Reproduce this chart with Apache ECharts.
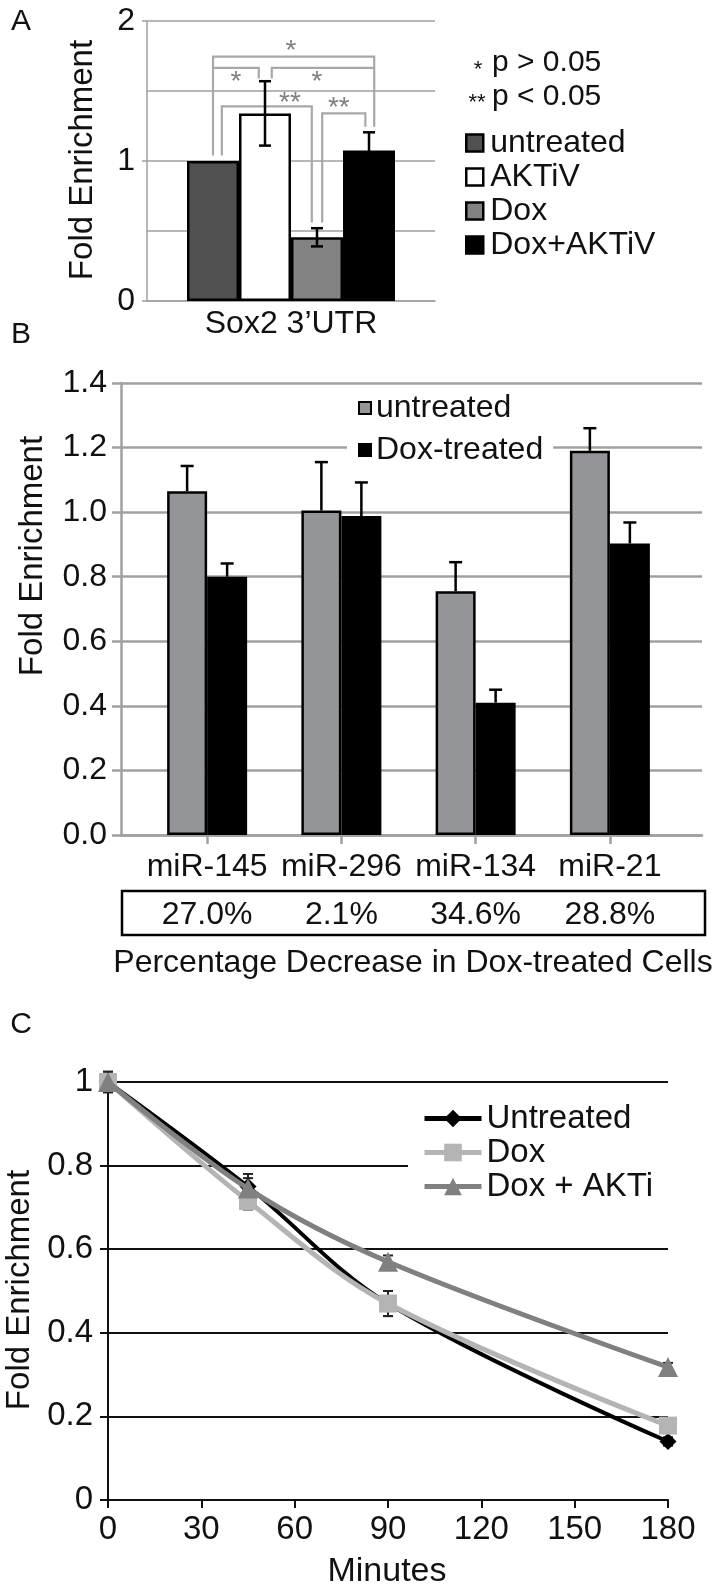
<!DOCTYPE html>
<html><head><meta charset="utf-8">
<script src="https://cdn.jsdelivr.net/npm/echarts@6/dist/echarts.min.js"></script>
<style>html,body{margin:0;padding:0;background:#fff}#c{width:723px;height:1591px}</style>
</head><body><div id="c"></div>
<script>
// ---------- Panel A data ----------
const aCategories = ['Sox2 3’UTR'];
const aSeriesNames = ['untreated', 'AKTiV', 'Dox', 'Dox+AKTiV'];
const aValues = [1.0, 1.34, 0.455, 1.075];
const aErrors = [0, 0.23, 0.065, 0.13];
const aTicks = [0, 1, 2];
// brackets: [left bar pos, right bar pos, bar level, left end level, right end level, mark x pos, mark level]
const aBrackets = [
  [0.0, 3.1, 1.745, 1.04, 1.245, 1.5, 1.83],
  [0.0, 0.88, 1.665, 1.665, 1.59, 0.44, 1.607],
  [1.13, 3.1, 1.665, 1.59, 1.665, 2.0, 1.607],
  [0.17, 1.9, 1.39, 1.04, 0.56, 1.48, 1.457],
  [2.1, 2.93, 1.34, 0.56, 1.245, 2.42, 1.42]
];
const aBracketMarks = ['*', '*', '*', '**', '**'];

// ---------- Panel B data ----------
const bCategories = ['miR-145', 'miR-296', 'miR-134', 'miR-21'];
const bSeriesNames = ['untreated ', 'Dox-treated'];
const bUntreated = [1.065, 1.005, 0.755, 1.19];
const bUntreatedErr = [0.078, 0.15, 0.09, 0.07];
const bDox = [0.80, 0.988, 0.41, 0.903];
const bDoxErr = [0.041, 0.104, 0.04, 0.065];
const bPercent = ['27.0%', '2.1%', '34.6%', '28.8%'];

// ---------- Panel C data ----------
const cSeriesNames = ['Untreated', 'Dox ', 'Dox + AKTi'];
const cMinutes = [0, 45, 90, 180];
const cUntreated = [1.0, 0.75, 0.47, 0.14];
const cUntreatedErr = [0.025, 0.03, 0.03, 0.01];
const cDox = [1.0, 0.715, 0.47, 0.178];
const cDoxErr = [0.02, 0.02, 0.03, 0.01];
const cDoxAkti = [1.0, 0.745, 0.57, 0.318];
const cDoxAktiErr = [0.02, 0.025, 0.015, 0.01];

const FONT = 'Liberation Sans, Arial, Helvetica, sans-serif';
const A_BAR_W = 52, B_BAR_W = 40;
const aColors = ['#505050', '#ffffff', '#838383', '#000000'];
const GRID_GRAY = '#a0a0a0';

const chart = echarts.init(document.getElementById('c'), null, {renderer: 'canvas'});

function errSeries(xi, yi, vals, errs, kIndex, nSeries, barW, capW, plusOnly, z) {
  return {
    type: 'custom', xAxisIndex: xi, yAxisIndex: yi, z: z, silent: true,
    data: vals.map((v, i) => [i, plusOnly ? v : v - errs[i], v + errs[i], errs[i]]),
    renderItem: (p, api) => {
      if (api.value(3) <= 0) return null;
      const lo = api.coord([api.value(0), api.value(1)]);
      const hi = api.coord([api.value(0), api.value(2)]);
      const x = lo[0] + (kIndex - (nSeries - 1) / 2) * barW;
      const st = {stroke: '#000', lineWidth: 2.5};
      const ch = [
        {type: 'line', shape: {x1: x, y1: lo[1], x2: x, y2: hi[1]}, style: st},
        {type: 'line', shape: {x1: x - capW / 2, y1: hi[1], x2: x + capW / 2, y2: hi[1]}, style: st}
      ];
      if (!plusOnly) ch.push({type: 'line', shape: {x1: x - capW / 2, y1: lo[1], x2: x + capW / 2, y2: lo[1]}, style: st});
      return {type: 'group', children: ch};
    }
  };
}

function lineErrSeries(vals, errs, z) {
  return {
    type: 'custom', xAxisIndex: 4, yAxisIndex: 4, z: z, silent: true,
    data: vals.map((v, i) => [cMinutes[i], v - errs[i], v + errs[i]]),
    renderItem: (p, api) => {
      const lo = api.coord([api.value(0), api.value(1)]);
      const hi = api.coord([api.value(0), api.value(2)]);
      const x = lo[0];
      const st = {stroke: '#222', lineWidth: 2};
      return {type: 'group', children: [
        {type: 'line', shape: {x1: x, y1: lo[1], x2: x, y2: hi[1]}, style: st},
        {type: 'line', shape: {x1: x - 5, y1: hi[1], x2: x + 5, y2: hi[1]}, style: st},
        {type: 'line', shape: {x1: x - 5, y1: lo[1], x2: x + 5, y2: lo[1]}, style: st}
      ]};
    }
  };
}

const bracketSeries = {
  type: 'custom', xAxisIndex: 0, yAxisIndex: 0, z: 6, silent: true,
  data: aBrackets.map(b => [0].concat(b)),
  renderItem: (p, api) => {
    const c = api.coord([0, 0]);
    const px = pos => c[0] + (pos - 1.5) * A_BAR_W;
    const py = v => api.coord([0, v])[1];
    const xL = px(api.value(1)), xR = px(api.value(2));
    const yT = py(api.value(3)), yL = py(api.value(4)), yR = py(api.value(5));
    return {type: 'group', children: [
      {type: 'polyline', shape: {points: [[xL, yL], [xL, yT], [xR, yT], [xR, yR]]},
        style: {stroke: '#a8a8a8', lineWidth: 2.2, fill: null}},
      {type: 'text', x: px(api.value(6)), y: py(api.value(7)) + 6,
        style: {text: aBracketMarks[p.dataIndex], fontSize: 28, fontFamily: FONT, fill: '#808080', align: 'center', verticalAlign: 'middle'}}
    ]};
  }
};

function txt(text, x, y, size, opts) {
  opts = opts || {};
  return {type: 'text', x: x, y: y, rotation: opts.rot || 0, z: 20,
    style: {text: text, fontSize: size, fontFamily: FONT, fill: opts.fill || '#111', align: opts.align || 'center', verticalAlign: 'middle'}};
}

const option = {
  backgroundColor: '#fff',
  animation: false,
  textStyle: {fontFamily: FONT},
  grid: [
    {left: 147, top: 21, width: 288, height: 280},
    {left: 121, top: 383, width: 581, height: 452},
    {left: 140, top: 383, width: 537, height: 452},
    {left: 140, top: 383, width: 537, height: 452},
    {left: 108, top: 1082, width: 560, height: 418}
  ],
  xAxis: [
    {gridIndex: 0, type: 'category', data: aCategories,
      axisLine: {lineStyle: {color: GRID_GRAY, width: 1.5}}, axisTick: {show: false},
      axisLabel: {fontSize: 32, color: '#111', margin: 7}},
    {gridIndex: 1, type: 'value', min: 0, max: 1, axisLabel: {show: false}, splitLine: {show: false},
      axisTick: {show: false}, axisLine: {lineStyle: {color: GRID_GRAY, width: 2.5}}},
    {gridIndex: 2, type: 'category', data: bCategories, axisLine: {show: false},
      axisTick: {show: true, alignWithLabel: true, length: 9, lineStyle: {color: GRID_GRAY, width: 2.5}},
      axisLabel: {fontSize: 32, color: '#111', margin: 16, interval: 0, hideOverlap: false}},
    {gridIndex: 3, type: 'category', data: bPercent, position: 'bottom', offset: 58,
      axisLine: {show: false}, axisTick: {show: false},
      axisLabel: {fontSize: 32, color: '#111', margin: 6, interval: 0, hideOverlap: false}},
    {gridIndex: 4, type: 'value', min: 0, max: 180, interval: 30,
      axisLine: {lineStyle: {color: '#111', width: 2}},
      axisTick: {length: 8, lineStyle: {color: '#111', width: 2}},
      axisLabel: {fontSize: 33, color: '#111', margin: 13}, splitLine: {show: false}}
  ],
  yAxis: [
    {gridIndex: 0, type: 'value', min: 0, max: 2, interval: 1,
      axisLine: {show: true, lineStyle: {color: GRID_GRAY, width: 1.5}},
      axisTick: {show: true, length: 5, lineStyle: {color: GRID_GRAY, width: 1.5}},
      axisLabel: {fontSize: 32, color: '#111', margin: 12},
      splitLine: {lineStyle: {color: GRID_GRAY, width: 1.5}},
      minorTick: {show: false, splitNumber: 2},
      minorSplitLine: {show: true, lineStyle: {color: GRID_GRAY, width: 1.5}}},
    {gridIndex: 1, type: 'value', min: 0, max: 1.4, interval: 0.2,
      axisLine: {show: true, lineStyle: {color: GRID_GRAY, width: 2.5}},
      axisTick: {show: true, length: 9, lineStyle: {color: GRID_GRAY, width: 2.5}},
      axisLabel: {fontSize: 32, color: '#111', margin: 14, formatter: v => v.toFixed(1)},
      splitLine: {lineStyle: {color: GRID_GRAY, width: 2.5}}},
    {gridIndex: 2, type: 'value', min: 0, max: 1.4, show: false},
    {gridIndex: 3, type: 'value', min: 0, max: 1, show: false},
    {gridIndex: 4, type: 'value', min: 0, max: 1, interval: 0.2,
      axisLine: {show: true, lineStyle: {color: '#111', width: 2}},
      axisTick: {show: true, length: 8, lineStyle: {color: '#111', width: 2}},
      axisLabel: {fontSize: 33, color: '#111', margin: 15},
      splitLine: {lineStyle: {color: '#111', width: 2}}}
  ],
  legend: [
    {data: aSeriesNames, orient: 'vertical', left: 465, top: 127, padding: 0, itemGap: 2,
      itemWidth: 17, itemHeight: 17, selectedMode: false, icon: 'rect',
      itemStyle: {borderColor: '#000', borderWidth: 2.5},
      textStyle: {fontSize: 32, lineHeight: 32, color: '#111', padding: [0, 0, 0, 2]}},
    {data: bSeriesNames, orient: 'vertical', left: 347, top: 387, padding: [5, 10, 5, 11], itemGap: 10,
      backgroundColor: '#fff', itemWidth: 12, itemHeight: 12, selectedMode: false, icon: 'rect',
      itemStyle: {borderColor: '#000', borderWidth: 2},
      formatter: n => n.trim(),
      textStyle: {fontSize: 32, lineHeight: 32, color: '#111'}},
    {data: cSeriesNames, orient: 'vertical', left: 408, top: 1098, padding: [4, 24, 4, 14], itemGap: 1,
      backgroundColor: '#fff', itemWidth: 57, itemHeight: 22, selectedMode: false,
      lineStyle: {width: 5},
      formatter: n => n.trim(),
      textStyle: {fontSize: 33, lineHeight: 33, color: '#111'}}
  ],
  graphic: [
    txt('A', 21, 22, 30),
    txt('B', 21, 335, 30),
    txt('C', 21, 1025, 30),
    txt('Fold Enrichment', 83, 160, 33, {rot: Math.PI / 2}),
    txt('Fold Enrichment', 33, 556, 33, {rot: Math.PI / 2}),
    txt('Fold Enrichment', 20, 1290, 33, {rot: Math.PI / 2}),
    txt('*', 478, 70, 22, {align: 'center'}),
    txt('p > 0.05', 492, 63, 30, {align: 'left'}),
    txt('**', 477, 103, 22, {align: 'center'}),
    txt('p < 0.05', 492, 97, 30, {align: 'left'}),
    {type: 'rect', z: 20, shape: {x: 122, y: 891, width: 583, height: 44},
      style: {fill: null, stroke: '#000', lineWidth: 2.5}},
    txt('Percentage Decrease in Dox-treated Cells', 413, 963, 32),
    txt('Minutes', 387, 1572, 34)
  ],
  series: [].concat(
    aSeriesNames.map((n, i) => ({
      type: 'bar', name: n, xAxisIndex: 0, yAxisIndex: 0, barWidth: A_BAR_W, barGap: '0%',
      data: [aValues[i]],
      itemStyle: {color: aColors[i], borderColor: '#000', borderWidth: 2.5}
    })),
    aValues.map((v, i) => errSeries(0, 0, [v], [aErrors[i]], i, 4, A_BAR_W, 12, false, 7)),
    [bracketSeries],
    [
      {type: 'bar', name: bSeriesNames[0], xAxisIndex: 2, yAxisIndex: 2, barWidth: B_BAR_W, barGap: '0%',
        data: bUntreated, itemStyle: {color: '#939598', borderColor: '#000', borderWidth: 2.5}},
      {type: 'bar', name: bSeriesNames[1], xAxisIndex: 2, yAxisIndex: 2, barWidth: B_BAR_W, barGap: '0%',
        data: bDox, itemStyle: {color: '#000', borderColor: '#000', borderWidth: 2.5}}
    ],
    [errSeries(2, 2, bUntreated, bUntreatedErr, 0, 2, B_BAR_W, 13, true, 4),
     errSeries(2, 2, bDox, bDoxErr, 1, 2, B_BAR_W, 13, true, 4)],
    [lineErrSeries(cUntreated, cUntreatedErr, 1),
     lineErrSeries(cDox, cDoxErr, 1),
     lineErrSeries(cDoxAkti, cDoxAktiErr, 1)],
    [
      {type: 'line', name: cSeriesNames[0], xAxisIndex: 4, yAxisIndex: 4, smooth: 0.35, z: 3,
        data: cMinutes.map((m, i) => [m, cUntreated[i]]),
        symbol: 'diamond', symbolSize: 17,
        lineStyle: {color: '#000', width: 4}, itemStyle: {color: '#000'}},
      {type: 'line', name: cSeriesNames[1], xAxisIndex: 4, yAxisIndex: 4, smooth: 0.35, z: 4,
        data: cMinutes.map((m, i) => [m, cDox[i]]),
        symbol: 'rect', symbolSize: 18,
        lineStyle: {color: '#b4b4b4', width: 5}, itemStyle: {color: '#b4b4b4'}},
      {type: 'line', name: cSeriesNames[2], xAxisIndex: 4, yAxisIndex: 4, smooth: 0.35, z: 5,
        data: cMinutes.map((m, i) => [m, cDoxAkti[i]]),
        symbol: 'triangle', symbolSize: 20,
        lineStyle: {color: '#808080', width: 5}, itemStyle: {color: '#808080'}}
    ]
  )
};
chart.setOption(option);
</script>
</body></html>
